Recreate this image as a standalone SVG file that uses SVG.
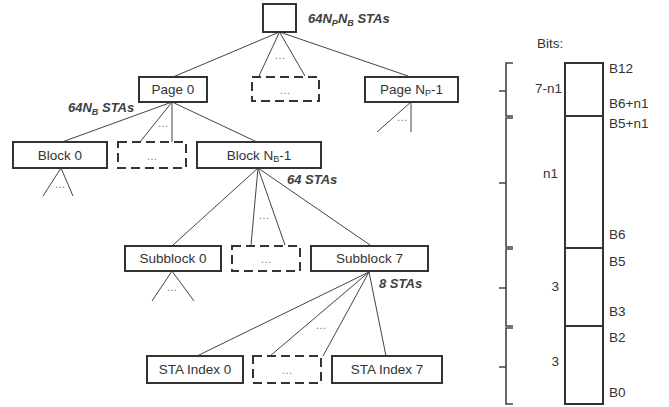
<svg xmlns="http://www.w3.org/2000/svg" width="669" height="407" viewBox="0 0 669 407">
<style>
.box{fill:#fff;stroke:#333;stroke-width:2}
.dbox{fill:#fff;stroke:#333;stroke-width:2;stroke-dasharray:9,5}
.ln{fill:none;stroke:#444;stroke-width:1}
.br{fill:none;stroke:#444;stroke-width:1.6}
text{font-family:"Liberation Sans",Arial,sans-serif;font-size:13.5px;fill:#333}
.c{text-anchor:middle}
.r{text-anchor:end}
.lab{font-weight:bold;font-style:italic;fill:#404040;font-size:13px}
.dots{font-size:11px;fill:#777}
</style>
<rect width="669" height="407" fill="#fff"/>
<g id="connectors">
<path class="ln" d="M279.5 32 L173 77 M279.5 32 L259 76 M279.5 32 L305 76 M279.5 32 L408 76"/>
<path class="ln" d="M411 102 L377 132 M411 102 L411 132"/>
<path class="ln" d="M172 102 L62 142 M172 102 L140 142 M172 102 L172 142 M172 102 L257 142"/>
<path class="ln" d="M61 168 L43 196 M61 168 L73 196"/>
<path class="ln" d="M258 168 L173 245 M258 168 L251 245 M258 168 L285 245 M258 168 L370 245"/>
<path class="ln" d="M172 271 L152 301 M172 271 L194 301"/>
<path class="ln" d="M369 272 L197 356 M369 272 L270 356 M369 272 L323 356 M369 272 L386 356"/>
</g>
<g id="root"><rect class="box" x="263" y="4" width="33" height="28"/>
<text class="lab" x="308" y="23">64N<tspan font-size="9" dy="3">P</tspan><tspan dy="-3">N</tspan><tspan font-size="9" dy="3">B</tspan><tspan dy="-3"> STAs</tspan></text></g>
<text class="dots c" x="280" y="59">…</text>
<g id="page0"><rect class="box" x="139" y="77" width="68" height="25"/><text class="c" x="173" y="94">Page 0</text></g>
<g id="pagedots"><rect class="dbox" x="252" y="77" width="67" height="24"/><text class="dots c" x="285" y="94">…</text></g>
<g id="pageN"><rect class="box" x="365" y="77" width="93" height="25"/><text class="c" x="411.5" y="94">Page N<tspan font-size="9" dy="2">P</tspan><tspan dy="-2">-1</tspan></text></g>
<text class="dots c" x="402" y="121">…</text>
<text class="lab" x="68" y="112">64N<tspan font-size="9" dy="3">B</tspan><tspan dy="-3"> STAs</tspan></text>
<text class="dots c" x="163" y="127">…</text>
<g id="block0"><rect class="box" x="13" y="142" width="94" height="26"/><text class="c" x="60" y="160">Block 0</text></g>
<g id="blockdots"><rect class="dbox" x="118" y="142" width="68" height="26"/><text class="dots c" x="152" y="160">…</text></g>
<g id="blockN"><rect class="box" x="197" y="142" width="124" height="26"/><text class="c" x="259" y="160">Block N<tspan font-size="9" dy="2">B</tspan><tspan dy="-2">-1</tspan></text></g>
<text class="dots c" x="60" y="188">…</text>
<text class="lab" x="287" y="184">64 STAs</text>
<text class="dots c" x="264" y="219">…</text>
<g id="sub0"><rect class="box" x="125" y="246" width="96" height="25"/><text class="c" x="173" y="263">Subblock 0</text></g>
<g id="subdots"><rect class="dbox" x="232" y="246" width="68" height="25"/><text class="dots c" x="266" y="263">…</text></g>
<g id="sub7"><rect class="box" x="311" y="246" width="117" height="25"/><text class="c" x="369.5" y="263">Subblock 7</text></g>
<text class="lab" x="379" y="288">8 STAs</text>
<text class="dots c" x="172" y="291">…</text>
<text class="dots c" x="321" y="329">…</text>
<g id="sta0"><rect class="box" x="147" y="356" width="96" height="27"/><text class="c" x="195" y="374">STA Index 0</text></g>
<g id="stadots"><rect class="dbox" x="253" y="356" width="68" height="27"/><text class="dots c" x="287" y="374">…</text></g>
<g id="sta7"><rect class="box" x="332" y="356" width="110" height="27"/><text class="c" x="387" y="374">STA Index 7</text></g>
<g id="bits">
<text x="537" y="48">Bits:</text>
<rect class="box" x="565" y="63" width="38" height="341"/>
<path class="box" d="M565 116 H603 M565 248 H603 M565 326 H603"/>
<path class="br" d="M513 63 H506 V116 H513 M506 91 H499"/>
<path class="br" d="M513 118 H506 V247 H513 M506 183 H499"/>
<path class="br" d="M513 249 H506 V326 H513 M506 288 H499"/>
<path class="br" d="M513 328 H506 V404 H513 M506 367 H499"/>
<text class="r" x="562" y="93">7-n1</text>
<text class="r" x="558" y="178">n1</text>
<text class="r" x="559" y="291">3</text>
<text class="r" x="559" y="366">3</text>
<text x="609" y="73">B12</text>
<text x="609" y="108">B6+n1</text>
<text x="609" y="128">B5+n1</text>
<text x="609" y="239">B6</text>
<text x="609" y="266">B5</text>
<text x="609" y="316">B3</text>
<text x="609" y="342">B2</text>
<text x="609" y="397">B0</text>
</g>
</svg>
